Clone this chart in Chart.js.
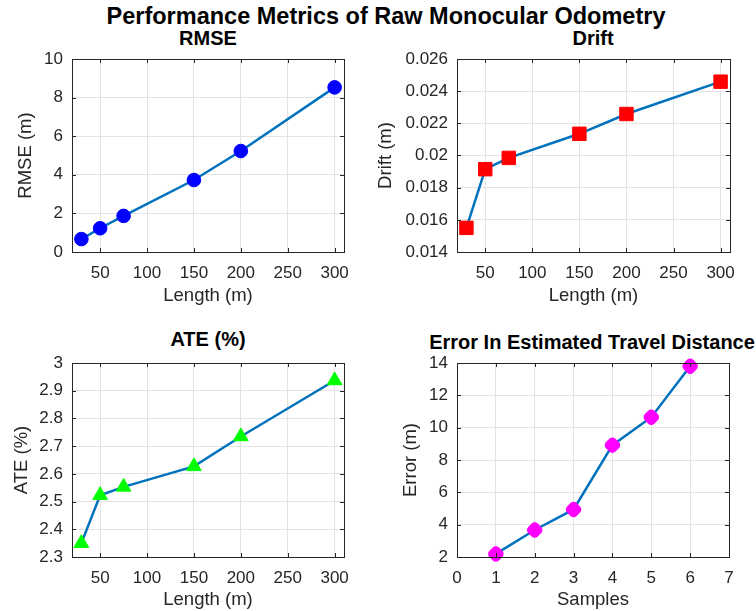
<!DOCTYPE html>
<html>
<head>
<meta charset="utf-8">
<script src="https://cdn.jsdelivr.net/npm/chart.js@4.4.1/dist/chart.umd.min.js"></script>
<style>
  html, body { margin: 0; padding: 0; background: #fff; overflow: hidden; }
  body { width: 756px; height: 611px; position: relative; font-family: "Liberation Sans", Arial, sans-serif; }
  .title { position: absolute; font-weight: bold; color: #000; white-space: nowrap; transform: translate(-50%, -50%); }
  .box { position: absolute; }
</style>
</head>
<body>
<div class="title" style="left:386px; top:16px; font-size:23.5px;">Performance Metrics of Raw Monocular Odometry</div>
<div class="title" style="left:208px; top:38px; font-size:20px;">RMSE</div>
<div class="title" style="left:593px; top:38px; font-size:20px;">Drift</div>
<div class="title" style="left:208px; top:339px; font-size:20px;">ATE (%)</div>
<div class="title" style="left:592px; top:342px; font-size:20px;">Error In Estimated Travel Distance</div>

<div class="box" style="left:0px; top:39px; width:370px; height:271px;"><canvas id="rmseChart"></canvas></div>
<div class="box" style="left:370px; top:39px; width:386px; height:271px;"><canvas id="driftChart"></canvas></div>
<div class="box" style="left:0px; top:343px; width:370px; height:272px;"><canvas id="ateChart"></canvas></div>
<div class="box" style="left:370px; top:343px; width:386px; height:272px;"><canvas id="errorChart"></canvas></div>

<script>
// ----------------------------
// Data
// ----------------------------
const lengths = [30, 50, 75, 150, 200, 300];
const rmse = [0.67, 1.23, 1.87, 3.73, 5.23, 8.53];
const drift = [0.0155, 0.01915, 0.01985, 0.02135, 0.02258, 0.02459];
const ate = [2.35, 2.523, 2.553, 2.627, 2.735, 2.937];
const samples = [1, 2, 3, 4, 5, 6];
const travelError = [2.19, 3.67, 4.94, 8.92, 10.65, 13.8];

const lengthTicks = [50, 100, 150, 200, 250, 300];
const rmseTicks = [0, 2, 4, 6, 8, 10];
const driftTicks = [0.014, 0.016, 0.018, 0.02, 0.022, 0.024, 0.026];
const ateTicks = [2.3, 2.4, 2.5, 2.6, 2.7, 2.8, 2.9, 3];
const sampleTicks = [0, 1, 2, 3, 4, 5, 6, 7];
const errorTicks = [2, 4, 6, 8, 10, 12, 14];

Chart.defaults.font.family = '"Liberation Sans", Arial, sans-serif';
Chart.defaults.color = '#262626';

const LINE = '#0072BD';
const AXIS = '#262626';
const GRID = '#e3e3e3';

// ----------------------------
// MATLAB style box with inward ticks
// ----------------------------
const boxPlugin = {
  id: 'matlabBox',
  afterDatasetsDraw(chart) {
    const { ctx, chartArea: a, scales } = chart;
    ctx.save();
    ctx.strokeStyle = AXIS;
    ctx.lineWidth = 1;
    ctx.beginPath();
    scales.x.ticks.forEach(t => {
      const px = Math.round(scales.x.getPixelForValue(t.value)) + 0.5;
      ctx.moveTo(px, a.bottom); ctx.lineTo(px, a.bottom - 4);
      ctx.moveTo(px, a.top); ctx.lineTo(px, a.top + 4);
    });
    scales.y.ticks.forEach(t => {
      const py = Math.round(scales.y.getPixelForValue(t.value)) + 0.5;
      ctx.moveTo(a.left, py); ctx.lineTo(a.left + 4, py);
      ctx.moveTo(a.right, py); ctx.lineTo(a.right - 4, py);
    });
    ctx.stroke();
    ctx.strokeRect(Math.round(a.left) + 0.5, Math.round(a.top) + 0.5,
                   Math.round(a.right - a.left), Math.round(a.bottom - a.top));
    ctx.restore();
  }
};

function makeChart(id, cfg) {
  const ctx = document.getElementById(id).getContext('2d');
  return new Chart(ctx, {
    type: 'line',
    data: {
      datasets: [{
        data: cfg.xs.map((x, i) => ({ x, y: cfg.ys[i] })),
        borderColor: LINE,
        borderWidth: 2.5,
        tension: 0,
        pointStyle: cfg.marker,
        pointRotation: cfg.rotation || 0,
        pointRadius: cfg.radius,
        pointBackgroundColor: cfg.color,
        pointBorderColor: cfg.color,
        pointBorderWidth: cfg.pointBorder || 1,
        clip: false
      }]
    },
    options: {
      responsive: true,
      maintainAspectRatio: false,
      animation: false,
      events: [],
      layout: { autoPadding: false, padding: { top: 20, right: cfg.padRight, left: 0, bottom: 0 } },
      plugins: { legend: { display: false }, tooltip: { enabled: false } },
      scales: {
        x: {
          type: 'linear',
          min: cfg.xMin, max: cfg.xMax,
          afterBuildTicks: s => { s.ticks = cfg.xTicks.map(v => ({ value: v })); },
          afterFit: s => { s.height = 58; },
          grid: { color: GRID, drawTicks: false },
          border: { display: false },
          ticks: { font: { size: 17 }, padding: 11, color: AXIS, maxRotation: 0, callback: v => String(v) },
          title: { display: true, text: cfg.xLabel, font: { size: 18.5 }, color: AXIS, padding: { top: 0, bottom: cfg.xTitlePad } }
        },
        y: {
          type: 'linear',
          min: cfg.yMin, max: cfg.yMax,
          afterBuildTicks: s => { s.ticks = cfg.yTicks.map(v => ({ value: v })); },
          afterFit: s => { s.width = cfg.yWidth; },
          grid: { color: GRID, drawTicks: false },
          border: { display: false },
          ticks: { font: { size: 17 }, padding: 9, color: AXIS, callback: v => String(v) },
          title: { display: true, text: cfg.yLabel, font: { size: 18.5 }, color: AXIS, padding: { top: cfg.yTitlePad, bottom: 0 } }
        }
      }
    },
    plugins: [boxPlugin]
  });
}

// ----------------------------
// Subplots
// ----------------------------
makeChart('rmseChart', {
  xs: lengths, ys: rmse, marker: 'circle', radius: 6.8, color: '#0000FF',
  xMin: 20, xMax: 310, xTicks: lengthTicks, xLabel: 'Length (m)', xTitlePad: 3,
  yMin: 0, yMax: 10, yTicks: rmseTicks, yLabel: 'RMSE (m)', yTitlePad: 15,
  yWidth: 72, padRight: 26
});

makeChart('driftChart', {
  xs: lengths, ys: drift, marker: 'rect', radius: 9.5, color: '#FF0000',
  xMin: 20, xMax: 310, xTicks: lengthTicks, xLabel: 'Length (m)', xTitlePad: 3,
  yMin: 0.014, yMax: 0.026, yTicks: driftTicks, yLabel: 'Drift (m)', yTitlePad: 5,
  yWidth: 87, padRight: 26
});

makeChart('ateChart', {
  xs: lengths, ys: ate, marker: 'triangle', radius: 8.5, color: '#00FF00',
  xMin: 20, xMax: 310, xTicks: lengthTicks, xLabel: 'Length (m)', xTitlePad: 4,
  yMin: 2.3, yMax: 3, yTicks: ateTicks, yLabel: 'ATE (%)', yTitlePad: 11,
  yWidth: 72, padRight: 26
});

makeChart('errorChart', {
  xs: samples, ys: travelError, marker: 'rectRounded', rotation: 45, radius: 7, color: '#FF00FF', pointBorder: 1.5,
  xMin: 0, xMax: 7, xTicks: sampleTicks, xLabel: 'Samples', xTitlePad: 4,
  yMin: 2, yMax: 14, yTicks: errorTicks, yLabel: 'Error (m)', yTitlePad: 30,
  yWidth: 87, padRight: 27
});
</script>
</body>
</html>
